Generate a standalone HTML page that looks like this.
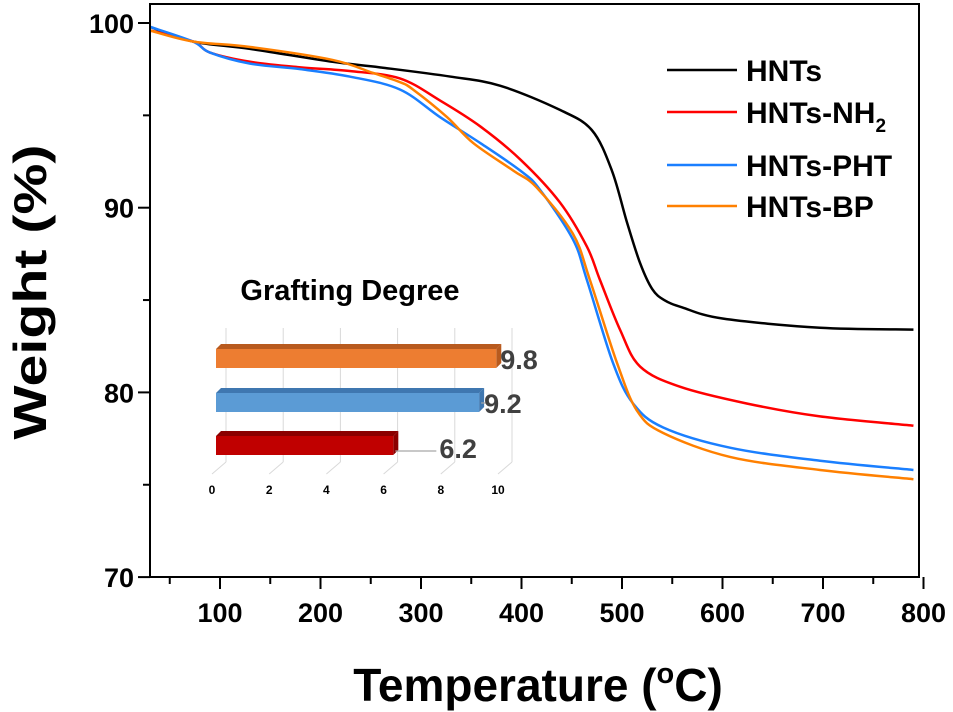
<!DOCTYPE html>
<html><head><meta charset="utf-8"><style>
html,body{margin:0;padding:0;background:#fff;}
svg{display:block;font-family:"Liberation Sans",Arial,sans-serif;font-weight:bold;}
</style></head><body>
<svg id="chart" width="953" height="712" viewBox="0 0 953 712">
<g id="inset"></g>
<g id="plot"></g>
</svg>
<script>
const tempHNTs=[30,73,130,212,259,329,379,438,470,490,505,518,530,542,560,600,697,790];
const wHNTs=[99.8,99.0,98.6,97.9,97.6,97.1,96.6,95.3,94.2,92.0,89.2,87.0,85.6,85.0,84.6,84.0,83.5,83.4];
const tempNH2=[30,73,90,130,180,229,279,319,359,399,438,465,478,498,518,558,624,697,790];
const wNH2=[99.6,99.0,98.4,97.9,97.6,97.4,97.0,95.8,94.4,92.6,90.3,87.9,86.1,83.4,81.4,80.3,79.4,78.7,78.2];
const tempPHT=[30,73,90,130,180,229,279,319,359,399,418,451,465,491,511,541,608,697,790];
const wPHT=[99.8,99.0,98.4,97.8,97.5,97.1,96.4,94.9,93.5,92.0,91.0,88.3,86.1,81.6,79.4,78.1,77.0,76.3,75.8];
const tempBP=[30,73,130,212,252,279,292,326,352,392,415,451,468,495,515,541,608,697,790];
const wBP=[99.6,99.0,98.7,98.0,97.3,96.8,96.4,94.9,93.5,92.0,91.1,88.6,86.1,81.6,79.0,77.8,76.5,75.8,75.3];
const seriesNames=["HNTs","HNTs-NH2","HNTs-PHT","HNTs-BP"];
const xTicks=[100,200,300,400,500,600,700,800];
const yTicks=[70,80,90,100];
const graftNames=["HNTs-NH2","HNTs-PHT","HNTs-BP"];
const graftValues=[6.2,9.2,9.8];
const graftTicks=[0,2,4,6,8,10];

const NS="http://www.w3.org/2000/svg";
function mk(tag,attrs,parent){const e=document.createElementNS(NS,tag);for(const k in attrs)e.setAttribute(k,attrs[k]);parent.appendChild(e);return e;}
const X=t=>220+(t-100)*1.005;
const Y=w=>23+(100-w)*18.47;
const plot=document.getElementById('plot');
const inset=document.getElementById('inset');

function smooth(pts){let d=`M${pts[0][0]},${pts[0][1]}`;for(let i=0;i<pts.length-1;i++){const p0=pts[Math.max(0,i-1)],p1=pts[i],p2=pts[i+1],p3=pts[Math.min(pts.length-1,i+2)];const c1=[p1[0]+(p2[0]-p0[0])/6,p1[1]+(p2[1]-p0[1])/6],c2=[p2[0]-(p3[0]-p1[0])/6,p2[1]-(p3[1]-p1[1])/6];d+=`C${c1[0]},${c1[1]} ${c2[0]},${c2[1]} ${p2[0]},${p2[1]}`;}return d;}

const series=[[tempHNTs,wHNTs,"#000000"],[tempNH2,wNH2,"#ff0000"],[tempPHT,wPHT,"#1a7fff"],[tempBP,wBP,"#ff8000"]];
series.forEach((s,i)=>{const pts=s[0].map((t,j)=>[X(t),Y(s[1][j])]);
const p=mk('path',{d:smooth(pts),fill:'none',stroke:s[2],'stroke-width':2.5},plot);

});

const fr=mk('rect',{x:150,y:4,width:769,height:573,fill:'none',stroke:'#000','stroke-width':2},plot);

for(let t=50;t<=800;t+=50){const major=t%100===0;const l=mk('line',{x1:X(t),x2:X(t),y1:577,y2:major?589:584,stroke:'#000','stroke-width':2},plot);
}
xTicks.forEach(t=>{const tx=mk('text',{x:X(t),y:622,'font-size':27,'text-anchor':'middle'},plot);tx.textContent=t;
});
for(let w=70;w<=100;w+=5){const major=w%10===0;const l=mk('line',{x1:major?138:143,x2:150,y1:Y(w),y2:Y(w),stroke:'#000','stroke-width':2},plot);
}
yTicks.forEach(w=>{const tx=mk('text',{x:134,y:Y(w)+10,'font-size':27,'text-anchor':'end'},plot);tx.textContent=w;
});
const yt=mk('text',{x:0,y:0,'font-size':46,'text-anchor':'middle',textLength:295,lengthAdjust:'spacingAndGlyphs',transform:'translate(46,292) rotate(-90)'},plot);yt.textContent='Weight (%)';

const xt=mk('text',{x:538,y:701,'font-size':46,'text-anchor':'middle'},plot);
xt.innerHTML='Temperature (<tspan font-size="29" dy="-18">o</tspan><tspan dy="18">C)</tspan>';


const legY=[70,112,165,206];
series.forEach((s,i)=>{const l=mk('line',{x1:667,x2:737,y1:legY[i],y2:legY[i],stroke:s[2],'stroke-width':2.5},plot);

const t=mk('text',{x:746,y:legY[i]+11,'font-size':30},plot);
if(i===1)t.innerHTML='HNTs-NH<tspan font-size="19" dy="9">2</tspan>';else t.textContent=seriesNames[i];
});

const IX=v=>212+v*28.6;
const tt=mk('text',{x:350,y:300,'font-size':29,'text-anchor':'middle'},inset);tt.textContent='Grafting  Degree';
tt.setAttribute('xml:space','preserve');

graftTicks.forEach(v=>{const g=mk('line',{x1:IX(v)+14,x2:IX(v)+14,y1:328,y2:462,stroke:'#d9d9d9','stroke-width':1},inset);

const f=mk('line',{x1:IX(v)+14,x2:IX(v),y1:462,y2:474,stroke:'#d9d9d9','stroke-width':1},inset);

const t=mk('text',{x:IX(v),y:494,'font-size':12,'text-anchor':'middle'},inset);t.textContent=v;
});
const barY=[436,393,349];
const fronts=["#c00000","#5b9bd5","#ed7d31"],tops=["#8b0000","#3f77b0","#b85a1e"];
graftValues.forEach((v,i)=>{const x0=216,x1=IX(v)+4,y=barY[i],h=19,d=5;
const top=mk('polygon',{points:`${x0},${y} ${x0+d},${y-d} ${x1+d},${y-d} ${x1},${y}`,fill:tops[i]},inset);

const side=mk('polygon',{points:`${x1},${y} ${x1+d},${y-d} ${x1+d},${y+h-d} ${x1},${y+h}`,fill:tops[i]},inset);

const r=mk('rect',{x:x0,y:y,width:x1-x0,height:h,fill:fronts[i]},inset);

let lx=x1+4;
if(i===0){lx=x1+46;const ll=mk('line',{x1:x1+2,x2:lx-3,y1:y+h-4,y2:y+h-4,stroke:'#a6a6a6','stroke-width':1.2},inset);
}
if(i===1){const ll=mk('line',{x1:x1+2,x2:x1+8,y1:y+10,y2:y+10,stroke:'#a6a6a6','stroke-width':1.2},inset);
lx=x1+5;}
const t=mk('text',{x:lx,y:y+h+(i===0?3:1),'font-size':27,fill:'#404040'},inset);t.textContent=v.toFixed(1);
});
</script>
</body></html>
